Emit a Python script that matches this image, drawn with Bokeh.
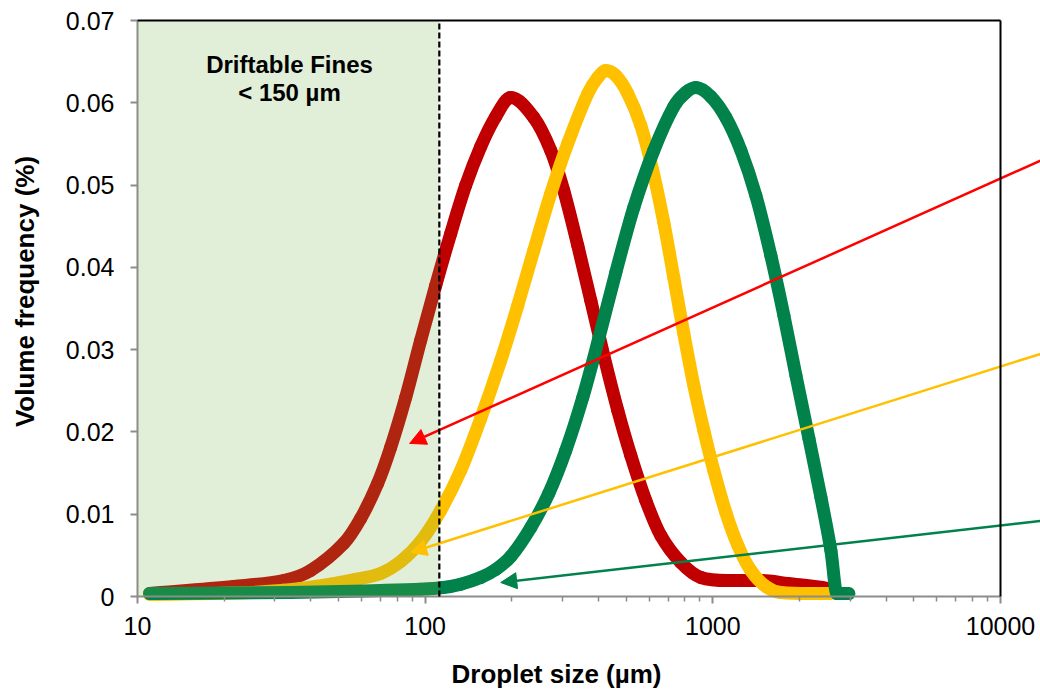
import math
from bokeh.plotting import figure
from bokeh.models import (Range1d, FixedTicker, BasicTickFormatter, BoxAnnotation,
                          Arrow, NormalHead, Label, LogAxis, LinearAxis)
from bokeh.embed import file_html
from bokeh.resources import INLINE

# ---- data ----
red_x = [11.01, 21.58, 32.20, 39.97, 52.07, 59.67, 68.35, 75.86, 85.55, 96.45, 108.8,
         122.7, 138.3, 156.0, 175.9, 198.4, 238.5, 273.3, 303.2, 339.2, 376.5, 417.8,
         467.4, 518.6, 584.8, 659.3, 773.9, 908.6, 1183, 1469, 1824, 2512, 2636]
red_y = [0.00036, 0.00122, 0.00194, 0.00316, 0.00644, 0.00948, 0.01373, 0.01811, 0.02418,
         0.03111, 0.03779, 0.04411, 0.04995, 0.05468, 0.05833, 0.06064, 0.05821, 0.05420,
         0.04934, 0.04265, 0.03597, 0.02929, 0.02260, 0.01713, 0.01167, 0.00741, 0.00413,
         0.00231, 0.00194, 0.00194, 0.00158, 0.00097, 0.00049]

yellow_x = [11.01, 24.72, 32.20, 36.90, 46.93, 57.33, 70.01, 82.19, 96.45, 113.2, 132.9,
            156.0, 183.1, 209.8, 238.5, 273.3, 313.1, 367.5, 398.1, 424.6, 459.9, 506.2,
            561.9, 618.4, 675.4, 731.6, 792.7, 858.9, 930.7, 1008, 1110, 1222, 1356, 1529,
            1724, 2573]
yellow_y = [0.00024, 0.00049, 0.00075, 0.00097, 0.00150, 0.00207, 0.00280, 0.00425,
            0.00668, 0.01045, 0.01531, 0.02163, 0.02868, 0.03536, 0.04205, 0.04897,
            0.05505, 0.06112, 0.06307, 0.06392, 0.06331, 0.06112, 0.05724, 0.05177,
            0.04545, 0.03877, 0.03196, 0.02564, 0.02017, 0.01531, 0.01021, 0.00620,
            0.00316, 0.00122, 0.00049, 0.00036]

green_x = [11.01, 34.06, 70.01, 96.45, 115.9, 132.9, 156.0, 175.9, 198.4, 232.8, 268.9,
           308.1, 353.1, 401.3, 459.9, 531.2, 623.4, 731.6, 805.5, 872.9, 984.0, 1110,
           1252, 1411, 1591, 1766, 1945, 2158, 2376, 2573, 2700, 2972]
green_y = [0.00036, 0.00049, 0.00073, 0.00088, 0.00109, 0.00150, 0.00231, 0.00328,
           0.00486, 0.00838, 0.01252, 0.01774, 0.02418, 0.03135, 0.03937, 0.04727,
           0.05420, 0.05954, 0.06125, 0.06185, 0.06076, 0.05821, 0.05420, 0.04873,
           0.04144, 0.03415, 0.02686, 0.01920, 0.01203, 0.00559, 0.00036, 0.00036]

fines_cutoff = 112
fines_text = ["Driftable Fines", "< 150 µm"]
x_title = "Droplet size (µm)"
y_title = "Volume frequency (%)"
x_ticks = [10, 100, 1000, 10000]
x_minor = [m * d for d in (10, 100, 1000) for m in range(2, 10)]
y_ticks = [0, 0.01, 0.02, 0.03, 0.04, 0.05, 0.06, 0.07]

# arrow annotations: (start_x, start_y, tip_x, tip_y, colour)
arrows = [
    (13837, 0.0530, 88.3, 0.0186, "#FF0000"),
    (13837, 0.0295, 89.0, 0.00535, "#FFC000"),
    (13837, 0.0092, 183.1, 0.0017, "#00824A"),
]

FONT = "Liberation Sans"
W, H = 1040, 689
# plot box in pixels: x 137..1000 (10..10000), y 20..596 (0.07..0)
PX_L, PX_R, PY_T, PY_B = 137, 1000, 20, 596
dec_px = (PX_R - PX_L) / 3.0
y_px = (PY_B - PY_T) / 0.07
x_start = 10 ** (1 - PX_L / dec_px)
x_end = 10 ** (4 + (W - PX_R) / dec_px)
y_end = PY_B / y_px
y_start = -(H - PY_B) / y_px


def px_to_x(px):
    return 10 ** (1 + (px - PX_L) / dec_px)


def py_to_y(py):
    return (PY_B - py) / y_px


p = figure(width=W, height=H, x_axis_type="log",
           x_range=Range1d(x_start, x_end), y_range=Range1d(y_start, y_end),
           x_axis_location=None, y_axis_location=None,
           output_backend="svg", toolbar_location=None, min_border=0,
           min_border_left=0, min_border_right=0, min_border_top=0,
           min_border_bottom=0)

p.background_fill_color = "white"
p.border_fill_color = "white"
p.outline_line_color = None
p.grid.visible = False


def smooth_line(xs, ys, color, width=13):
    """Smoothed (Excel-style) line: monotone cubic Hermite segments in log-x, as Beziers."""
    u = [math.log10(v) for v in xs]
    n = len(u)
    d = [(ys[i + 1] - ys[i]) / (u[i + 1] - u[i]) for i in range(n - 1)]
    m = [d[0]]
    for i in range(1, n - 1):
        if d[i - 1] * d[i] <= 0:
            m.append(0.0)
        else:
            m.append((ys[i + 1] - ys[i - 1]) / (u[i + 1] - u[i - 1]))
    m.append(d[-1])
    x0, y0, x1, y1, cx0, cy0, cx1, cy1 = [], [], [], [], [], [], [], []
    for i in range(n - 1):
        h = u[i + 1] - u[i]
        x0.append(xs[i]); y0.append(ys[i])
        x1.append(xs[i + 1]); y1.append(ys[i + 1])
        cx0.append(10 ** (u[i] + h / 3)); cy0.append(ys[i] + m[i] * h / 3)
        cx1.append(10 ** (u[i + 1] - h / 3)); cy1.append(ys[i + 1] - m[i + 1] * h / 3)
    p.bezier(x0=x0, y0=y0, x1=x1, y1=y1, cx0=cx0, cy0=cy0, cx1=cx1, cy1=cy1,
             line_color=color, line_width=width, line_cap="round", line_join="round")


smooth_line(red_x, red_y, "#C00000")
smooth_line(yellow_x, yellow_y, "#FFC000")
smooth_line(green_x, green_y, "#00824A")

# driftable fines shading (overlay on top of the curves)
p.add_layout(BoxAnnotation(left=x_ticks[0], right=fines_cutoff, bottom=y_ticks[0],
                           top=y_ticks[-1], fill_color="#70AD47", fill_alpha=0.21,
                           line_color=None))

# dashed cut-off line and the top / right frame border
p.segment(x0=[fines_cutoff], y0=[y_ticks[0]], x1=[fines_cutoff], y1=[y_ticks[-1]],
          line_color="black", line_width=2.2, line_dash="6 3", level="overlay")
p.segment(x0=[x_ticks[0], x_ticks[-1]], y0=[y_ticks[-1], y_ticks[0]],
          x1=[x_ticks[-1], x_ticks[-1]], y1=[y_ticks[-1], y_ticks[-1]],
          line_color="black", line_width=2, level="overlay")

p.add_layout(Label(x=px_to_x(289), y=py_to_y(64), text=fines_text[0], text_align="center",
                   text_baseline="middle", text_font=FONT, text_font_style="bold",
                   text_font_size="24px", text_color="black"))
p.add_layout(Label(x=px_to_x(289), y=py_to_y(92), text=fines_text[1], text_align="center",
                   text_baseline="middle", text_font=FONT, text_font_style="bold",
                   text_font_size="24px", text_color="black"))

for sx, sy, tx, ty, c in arrows:
    p.add_layout(Arrow(x_start=sx, y_start=sy, x_end=tx, y_end=ty, line_color=c,
                       line_width=2.5,
                       end=NormalHead(size=16, fill_color=c, line_color=c, line_width=1)))

# axes drawn at fixed positions inside the canvas
xaxis = LogAxis(fixed_location=y_ticks[0], bounds=(x_ticks[0], x_ticks[-1]),
                ticker=FixedTicker(ticks=x_ticks, minor_ticks=x_minor),
                formatter=BasicTickFormatter())
yaxis = LinearAxis(fixed_location=x_ticks[0], bounds=(y_ticks[0], y_ticks[-1]),
                   ticker=FixedTicker(ticks=y_ticks))
for ax in (xaxis, yaxis):
    ax.axis_line_color = "#8C8C8C"
    ax.axis_line_width = 2
    ax.major_tick_line_color = "#8C8C8C"
    ax.major_tick_line_width = 2
    ax.major_tick_out = 7
    ax.major_tick_in = 0
    ax.major_label_text_font = FONT
    ax.major_label_text_font_size = "25px"
    ax.major_label_text_color = "black"

xaxis.minor_tick_line_color = "#8C8C8C"
xaxis.minor_tick_line_width = 1.5
xaxis.minor_tick_out = 5
xaxis.minor_tick_in = 0
xaxis.major_label_standoff = 13

yaxis.major_label_overrides = {0: "0"}
yaxis.minor_tick_line_color = None
yaxis.major_label_standoff = 16

p.add_layout(xaxis, "below")
p.add_layout(yaxis, "left")

# axis titles
p.add_layout(Label(x=px_to_x(556), y=py_to_y(673), text=x_title, text_align="center",
                   text_baseline="middle", text_font=FONT, text_font_size="26px",
                   text_font_style="bold", text_color="black"))
p.add_layout(Label(x=px_to_x(24), y=py_to_y(291), text=y_title, angle=math.pi / 2,
                   text_align="center", text_baseline="middle", text_font=FONT,
                   text_font_size="26px", text_font_style="bold", text_color="black"))

open("out.html", "w").write(file_html(p, INLINE))
